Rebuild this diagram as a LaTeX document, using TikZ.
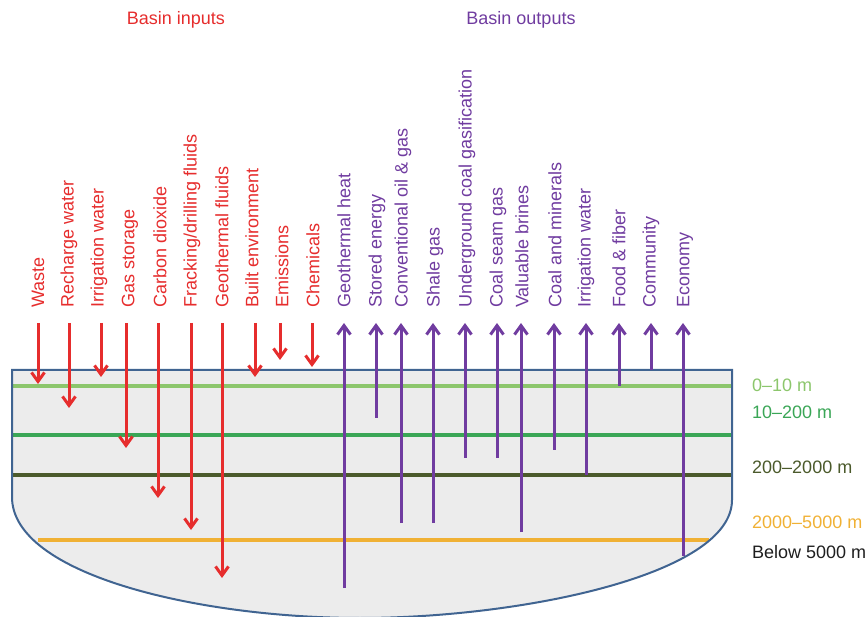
\documentclass[tikz,border=0pt]{standalone}
\usepackage{fontspec}
\setmainfont{Liberation Sans}
\usetikzlibrary{arrows.meta}
\definecolor{inred}{RGB}{230,45,45}
\definecolor{outpurple}{RGB}{112,60,160}
\definecolor{basinblue}{RGB}{64,100,145}
\definecolor{basingray}{RGB}{236,236,236}
\definecolor{layerA}{RGB}{140,198,108}
\definecolor{layerB}{RGB}{58,166,86}
\definecolor{layerC}{RGB}{75,90,43}
\definecolor{layerD}{RGB}{240,177,53}
\definecolor{belowtext}{RGB}{30,30,30}

\begin{document}
\begin{tikzpicture}[x=1pt,y=-1pt,font=\fontsize{18}{21}\selectfont]
\tikzstyle{inarrow} = [draw=inred,line width=3pt,-{Straight Barb[length=9pt,width=13pt]}]
\tikzstyle{outarrow} = [draw=outpurple,line width=3pt,-{Straight Barb[length=9pt,width=13pt]}]
\tikzstyle{inlabel} = [text=inred,rotate=90,anchor=west,inner sep=0pt]
\tikzstyle{outlabel} = [text=outpurple,rotate=90,anchor=west,inner sep=0pt]
\tikzstyle{layer} = [line width=4pt]
\tikzstyle{depthlabel} = [anchor=west,inner sep=0pt]

\useasboundingbox (0,0) rectangle (868,617);

% basin and its layers
\fill[basingray] (12,370) -- (732,370) -- (732,500) .. controls (732,575) and (520,618) .. (360,618) .. controls (200,618) and (12,575) .. (12,497) -- cycle;
\draw[layer,layerA] (12,386) -- (732,386);
\draw[layer,layerB] (12,435) -- (732,435);
\draw[layer,layerC] (12,475) -- (732,475);
\draw[layer,layerD] (38,540) -- (709,540);
\draw[basinblue,line width=2pt] (12,370) -- (732,370) -- (732,500) .. controls (732,575) and (520,618) .. (360,618) .. controls (200,618) and (12,575) .. (12,497) -- cycle;

\node at (176,20) [text=inred] (intitle) {Basin inputs};
\node at (521,20) [text=outpurple] (outtitle) {Basin outputs};

\foreach \n/\xt/\xa/\ye/\txt in {
  waste/38/38/384/Waste,
  recharge/69/69/408/Recharge water,
  irrigation/99/101/377/Irrigation water,
  gas/130/126/448/Gas storage,
  carbon/160/158/498/Carbon dioxide,
  fracking/192/191/530/{Fracking/drilling fluids},
  fluids/222/222/578/Geothermal fluids,
  built/252/255/377/Built environment,
  emissions/282/280/360/Emissions,
  chemicals/313/312/367/Chemicals}
{
  \node[inlabel] (in-\n) at (\xt,308) {\txt};
  \coordinate (in-\n-top) at (\xa,323);
  \coordinate (in-\n-end) at (\xa,\ye);
  \draw[inarrow] (in-\n-top) -- (in-\n-end);
}

\foreach \n/\xt/\xa/\yb/\txt in {
  heat/344/344/588/Geothermal heat,
  stored/377/376/418/Stored energy,
  conventional/403/401/523/Conventional oil \& gas,
  shale/435/433/523/Shale gas,
  ucg/467/465/458/Underground coal gasification,
  seam/498/497/458/Coal seam gas,
  brines/522/521/532/Valuable brines,
  minerals/555/554/450/Coal and minerals,
  irrigation/586/586/475/Irrigation water,
  food/619/619/386/Food \& fiber,
  community/651/651/370/Community,
  economy/685/683/556/Economy}
{
  \node[outlabel] (out-\n) at (\xt,308) {\txt};
  \coordinate (out-\n-top) at (\xa,323);
  \coordinate (out-\n-bottom) at (\xa,\yb);
  \draw[outarrow] (out-\n-bottom) -- (out-\n-top);
}

\node at (752,385) [depthlabel,text=layerA] (depthA) {0--10 m};
\node at (752,412) [depthlabel,text=layerB] (depthB) {10--200 m};
\node at (752,467) [depthlabel,text=layerC] (depthC) {200--2000 m};
\node at (752,522) [depthlabel,text=layerD] (depthD) {2000--5000 m};
\node at (752,552) [depthlabel,text=belowtext] (depthE) {Below 5000 m};
\end{tikzpicture}
\end{document}
